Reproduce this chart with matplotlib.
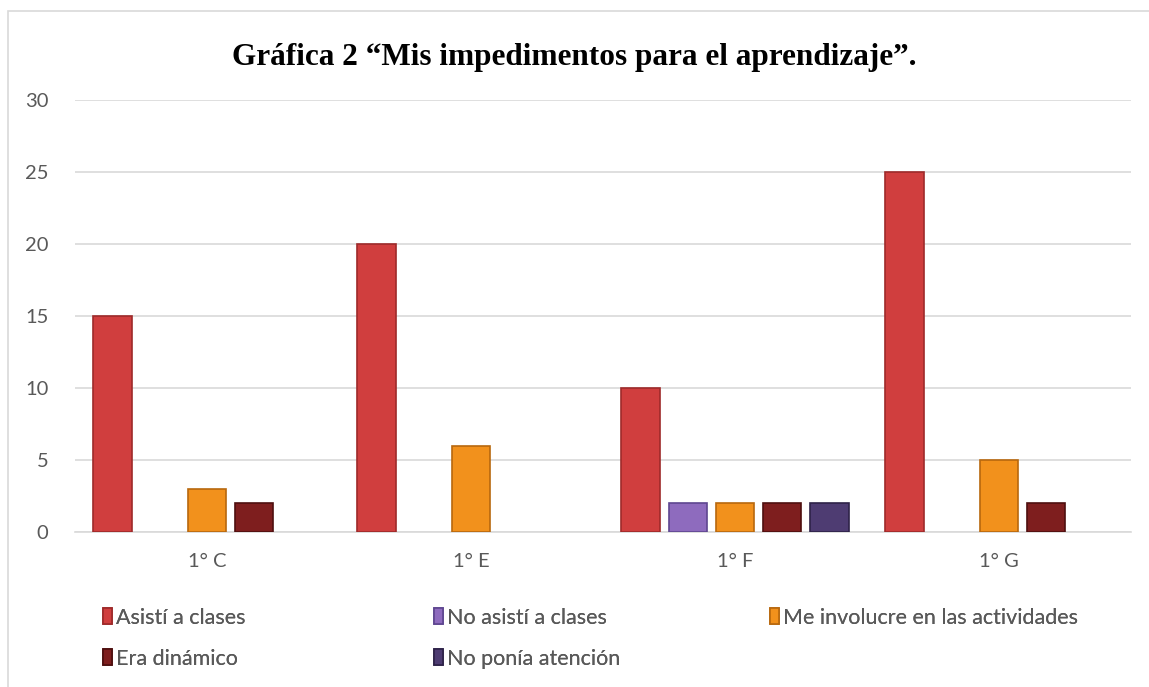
import numpy as np
import matplotlib
matplotlib.use("Agg")
import matplotlib.pyplot as plt
from matplotlib.patches import Rectangle

plt.rcParams["font.family"] = ["Lato", "DejaVu Sans"]

# datos
grupos = ["1° C", "1° E", "1° F", "1° G"]
series = ["Asistí a clases", "No asistí a clases", "Me involucre en las actividades",
          "Era dinámico", "No ponía atención"]
asisti = [15, 20, 10, 25]
no_asisti = [0, 0, 2, 0]
involucre = [3, 6, 2, 5]
dinamico = [2, 0, 2, 2]
no_atencion = [0, 0, 2, 0]
valores = [asisti, no_asisti, involucre, dinamico, no_atencion]

colores = ["#D03E3E", "#8E6BBE", "#F2911C", "#7E1E1E", "#4E3C72"]
bordes = ["#9E2A2A", "#5E4690", "#B8680E", "#4E0F0F", "#2E2248"]

W, H = 1149, 687
fig = plt.figure(figsize=(W / 100, H / 100), dpi=100)

# marco del gráfico
fig.patches.append(Rectangle((8 / W, -0.1), 1.2, 1.1 - 11 / H, transform=fig.transFigure,
                             fill=False, edgecolor="#D9D9D9", linewidth=1.2))

ax = fig.add_axes([75 / W, 1 - 532 / H, (1131 - 75) / W, (532 - 100) / H])

x = np.arange(len(grupos))
slot = 0.179
ancho = 0.145
for i, (vals, c, b) in enumerate(zip(valores, colores, bordes)):
    pos = x + (i - 2) * slot
    v = np.array(vals, dtype=float)
    m = v > 0
    ax.bar(pos[m], v[m], width=ancho, color=c, edgecolor=b, linewidth=1.2,
           label=series[i], zorder=3)

ax.set_ylim(0, 30)
ax.set_xlim(-0.5, len(grupos) - 0.5)
ax.set_yticks(range(0, 31, 5))
ax.set_xticks(x)
ax.set_xticklabels(grupos)
ax.grid(axis="y", color="#D9D9D9", linewidth=1.2, zorder=0)
ax.set_axisbelow(True)
for s in ["top", "right", "left"]:
    ax.spines[s].set_visible(False)
ax.spines["bottom"].set_color("#D9D9D9")
ax.spines["bottom"].set_linewidth(1.2)
ax.tick_params(axis="both", length=0, labelsize=14.5, labelcolor="#595959")
ax.tick_params(axis="y", pad=19)
ax.tick_params(axis="x", pad=15)

fig.text(0.5, 1 - 58 / H, "Gráfica 2 “Mis impedimentos para el aprendizaje”.",
         ha="center", va="center", fontsize=22.5, fontweight="bold",
         family=["Liberation Serif", "DejaVu Serif"])

# leyenda en tres columnas
handles, labels = ax.get_legend_handles_labels()
columnas = [[0, 3], [1, 4], [2]]
xs = [94, 425, 761]
for col, xl in zip(columnas, xs):
    leg = fig.legend([handles[k] for k in col], [labels[k] for k in col],
                     loc="upper left", bbox_to_anchor=(xl / W, 1 - 599 / H),
                     frameon=False, fontsize=15.5, handlelength=0.45, handleheight=0.75,
                     handletextpad=0.15, labelspacing=0.98, borderaxespad=0)
    for t in leg.get_texts():
        t.set_color("#595959")
    fig.add_artist(leg)

fig.savefig("out.png", dpi=100)
